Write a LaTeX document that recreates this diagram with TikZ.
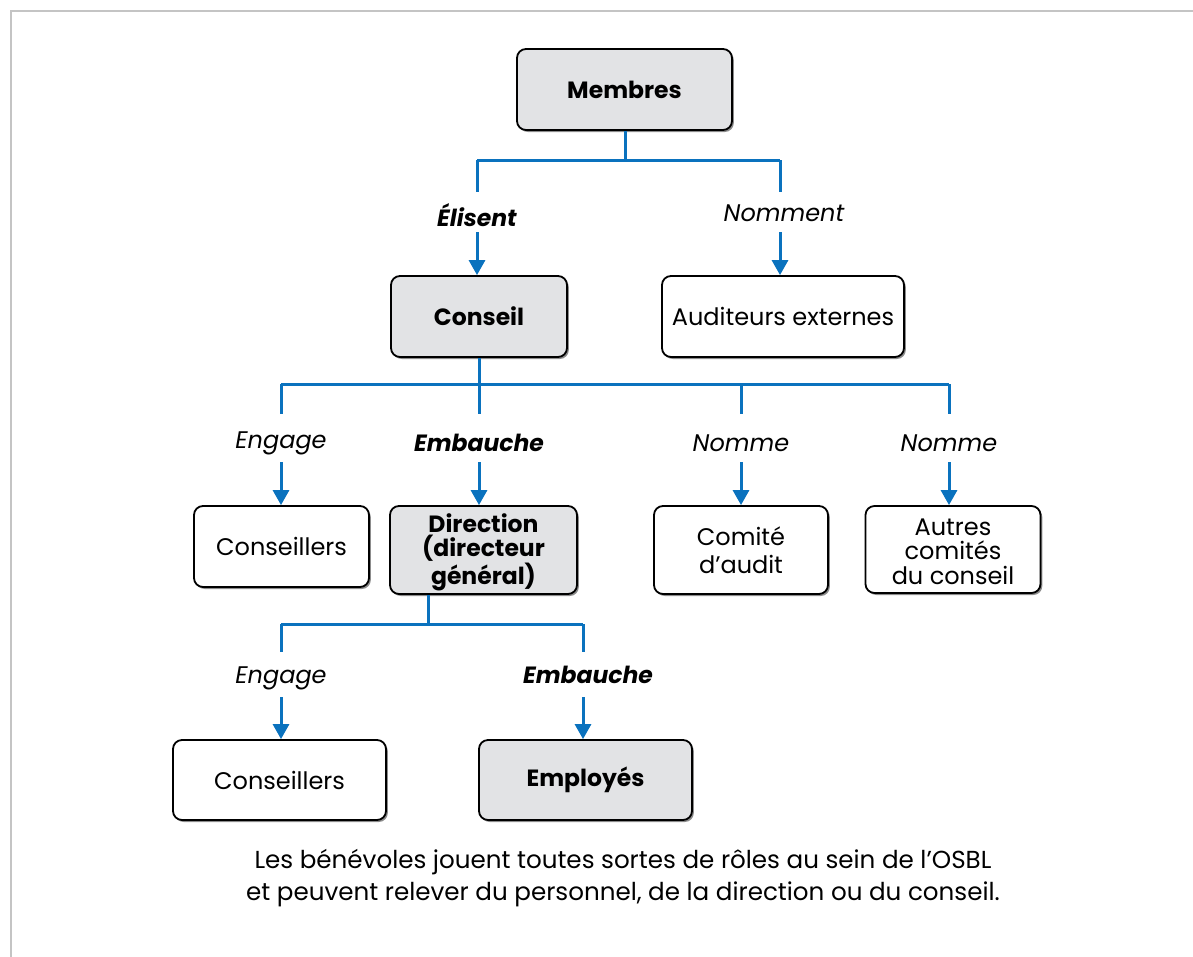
\documentclass[tikz,border=0pt]{standalone}
\usepackage{fontspec}
\setmainfont{Poppins}
\usetikzlibrary{arrows.meta,shadows}
\definecolor{lineblue}{HTML}{0A72BE}
\definecolor{boxgray}{HTML}{E2E3E5}
\definecolor{framegray}{HTML}{C4C4C4}
\begin{document}
\begin{tikzpicture}[x=1pt,y=-1pt,
  box/.style={draw=black, line width=1.8pt, rounded corners=9pt, align=center,
    inner sep=0pt, font=\fontsize{24}{28}\selectfont,
    drop shadow={shadow xshift=1.8pt, shadow yshift=-2pt, opacity=0.45, fill=black}},
  graybox/.style={box, fill=boxgray, font=\fontsize{23.5}{28}\selectfont\bfseries},
  whitebox/.style={box, fill=white},
  conn/.style={draw=lineblue, line width=3pt},
  arr/.style={conn, -{Triangle[length=15pt, width=16pt]}},
  lab/.style={inner sep=0pt, font=\fontsize{24}{28}\selectfont\itshape},
  blab/.style={inner sep=0pt, font=\fontsize{23.5}{28}\selectfont\bfseries\itshape},
  captext/.style={inner sep=0pt, align=center, font=\fontsize{24.6}{32}\selectfont}]
\useasboundingbox (0,0) rectangle (1193,956);
\fill[white] (0,0) rectangle (1193,956);
\draw[framegray, line width=2.6pt] (11,958) -- (11,11) -- (1195,11);

% boxes
\node[graybox, minimum width=215pt, minimum height=81pt] (mem) at (624.5,89.5) {Membres};
\node[graybox, minimum width=176pt, minimum height=81pt] (con) at (479,316.5) {Conseil};
\node[whitebox, minimum width=242pt, minimum height=81pt] (aud) at (783,316.5) {Auditeurs externes};
\node[whitebox, minimum width=175pt, minimum height=81pt] (cs1) at (281.5,546.5) {Conseillers};
\node[graybox, minimum width=187pt, minimum height=88pt, font=\fontsize{23.5}{24.5}\selectfont\bfseries] (dir) at (483.5,550) {\rule{0pt}{23pt}Direction\\(directeur\\général)};
\node[whitebox, minimum width=174pt, minimum height=88pt] (com) at (741,550) {Comité\\d’audit};
\node[whitebox, minimum width=175pt, minimum height=87pt, font=\fontsize{24}{24.5}\selectfont] (aut) at (953,549.5) {\rule{0pt}{21pt}Autres\\comités\\du conseil};
\node[whitebox, minimum width=213pt, minimum height=80pt] (cs2) at (279.5,780) {Conseillers};
\node[graybox, minimum width=213pt, minimum height=80pt] (emp) at (585.5,780) {Employés};

% level 1
\coordinate (j1) at (625,160);
\coordinate (t1) at (477,160);
\coordinate (t2) at (780,160);
\coordinate (e1) at (477,192);
\coordinate (e2) at (780,192);
\coordinate (a1) at (477,232);
\coordinate (a2) at (780,232);
\node[blab] (l1) at (477,215) {Élisent};
\node[lab] (l2) at (784,213) {Nomment};
\draw[conn] (mem.south -| j1) -- (j1);
\draw[conn] (t1) -- (t2);
\draw[conn] (t1) -- (e1);
\draw[conn] (t2) -- (e2);
\draw[arr] (a1) -- (a1 |- con.north);
\draw[arr] (a2) -- (a2 |- aud.north);

% level 2
\coordinate (j2) at (479,384);
\coordinate (t3) at (281,384);
\coordinate (t4) at (479,384);
\coordinate (t5) at (741,384);
\coordinate (t6) at (949,384);
\coordinate (e3) at (281,414);
\coordinate (e4) at (479,414);
\coordinate (e5) at (741,414);
\coordinate (e6) at (949,414);
\coordinate (a3) at (281,462);
\coordinate (a4) at (479,462);
\coordinate (a5) at (741,462);
\coordinate (a6) at (949,462);
\node[lab] (l3) at (281,443) {Engage};
\node[blab] (l4) at (479,443) {Embauche};
\node[lab] (l5) at (741,443) {Nomme};
\node[lab] (l6) at (949,443) {Nomme};
\draw[conn] (con.south -| j2) -- (j2);
\draw[conn] (t3) -- (t6);
\draw[conn] (t3) -- (e3);
\draw[conn] (t4) -- (e4);
\draw[conn] (t5) -- (e5);
\draw[conn] (t6) -- (e6);
\draw[arr] (a3) -- (a3 |- cs1.north);
\draw[arr] (a4) -- (a4 |- dir.north);
\draw[arr] (a5) -- (a5 |- com.north);
\draw[arr] (a6) -- (a6 |- aut.north);

% level 3
\coordinate (j3) at (428,624);
\coordinate (t7) at (281,624);
\coordinate (t8) at (583,624);
\coordinate (e7) at (281,652);
\coordinate (e8) at (583,652);
\coordinate (a7) at (281,697);
\coordinate (a8) at (583,697);
\node[lab] (l7) at (281,678) {Engage};
\node[blab] (l8) at (588,675) {Embauche};
\draw[conn] (dir.south -| j3) -- (j3);
\draw[conn] (t7) -- (t8);
\draw[conn] (t7) -- (e7);
\draw[conn] (t8) -- (e8);
\draw[arr] (a7) -- (a7 |- cs2.north);
\draw[arr] (a8) -- (a8 |- emp.north);

% caption
\node[captext] (capt) at (623,878) {Les bénévoles jouent toutes sortes de rôles au sein de l’OSBL\\et peuvent relever du personnel, de la direction ou du conseil.};
\end{tikzpicture}
\end{document}
